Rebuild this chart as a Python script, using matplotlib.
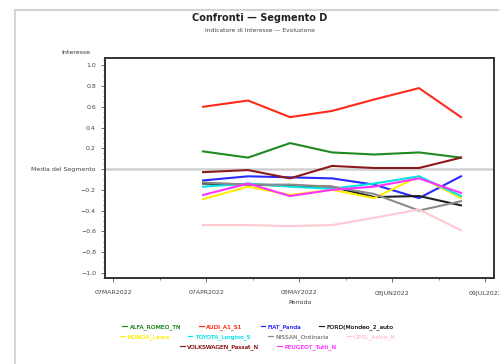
import matplotlib
matplotlib.use('Agg')
import matplotlib.pyplot as plt
from matplotlib.lines import Line2D
from matplotlib.ticker import MultipleLocator

# days since 07MAR2022
days = [30, 45, 59, 73, 87, 102, 116]
tick_days = [0, 31, 62, 93, 124]
tick_labels = ['07MAR2022', '07APR2022', '08MAY2022', '08JUN2022', '09JUL2022']

series = {
    'ALFA_ROMEO_TN':       [0.17, 0.11, 0.25, 0.16, 0.14, 0.16, 0.11],
    'AUDI_A1_S1':          [0.60, 0.66, 0.50, 0.56, 0.67, 0.78, 0.50],
    'FIAT_Panda':          [-0.11, -0.07, -0.08, -0.09, -0.15, -0.28, -0.07],
    'FORD(Mondeo_2_auto':  [-0.14, -0.15, -0.16, -0.17, -0.27, -0.26, -0.35],
    'HONDA_Laura':         [-0.29, -0.17, -0.25, -0.20, -0.28, -0.07, -0.28],
    'TOYOTA_Lorgino_S':    [-0.17, -0.14, -0.17, -0.19, -0.14, -0.07, -0.26],
    'NISSAN_Ordinaria':    [-0.13, -0.15, -0.15, -0.17, -0.24, -0.40, -0.31],
    'OPEL_Astra_N':        [-0.54, -0.54, -0.55, -0.54, -0.47, -0.39, -0.59],
    'VOLKSWAGEN_Passat_N': [-0.03, -0.01, -0.09, 0.03, 0.01, 0.01, 0.11],
    'PEUGEOT_Tutti_N':     [-0.25, -0.14, -0.26, -0.20, -0.17, -0.09, -0.23],
}
colors = {
    'ALFA_ROMEO_TN': '#1f8a1f',
    'AUDI_A1_S1': '#ff2a1a',
    'FIAT_Panda': '#2a2aff',
    'FORD(Mondeo_2_auto': '#222222',
    'HONDA_Laura': '#ffee00',
    'TOYOTA_Lorgino_S': '#00e5e5',
    'NISSAN_Ordinaria': '#8a8a8a',
    'OPEL_Astra_N': '#ffc8d2',
    'VOLKSWAGEN_Passat_N': '#8b1a1a',
    'PEUGEOT_Tutti_N': '#ff33ff',
}
legend_rows = [
    ['ALFA_ROMEO_TN', 'AUDI_A1_S1', 'FIAT_Panda', 'FORD(Mondeo_2_auto'],
    ['HONDA_Laura', 'TOYOTA_Lorgino_S', 'NISSAN_Ordinaria', 'OPEL_Astra_N'],
    ['VOLKSWAGEN_Passat_N', 'PEUGEOT_Tutti_N'],
]

fig = plt.figure(figsize=(4.99, 3.64), dpi=100)
ax = fig.add_axes([105 / 499, 1 - 278 / 364, (494 - 105) / 499, (278 - 58) / 364])

# outer light frame
fig.add_artist(Line2D([15 / 499, 15 / 499], [0, 1 - 10 / 364], color='#d4d4d4', lw=1.5))
fig.add_artist(Line2D([15 / 499, 1], [1 - 10 / 364, 1 - 10 / 364], color='#d4d4d4', lw=1.5))

ax.axhline(0, color='#d0d0d0', lw=1.8, zorder=1)

for name, vals in series.items():
    ax.plot(days, vals, color=colors[name], lw=1.5, zorder=2)

ax.set_xlim(-2.7, 127)
ax.set_ylim(-1.05, 1.07)
ax.set_xticks(tick_days)
ax.set_xticklabels(tick_labels)
ax.xaxis.set_minor_locator(MultipleLocator(15.5))
yt = [-1.0, -0.8, -0.6, -0.4, -0.2, 0.0, 0.2, 0.4, 0.6, 0.8, 1.0]
ax.set_yticks(yt)
ax.set_yticklabels(['\u22121.0', '\u22120.8', '\u22120.6', '\u22120.4', '\u22120.2',
                    'Media del Segmento', '0.2', '0.4', '0.6', '0.8', '1.0'])
ax.yaxis.set_minor_locator(MultipleLocator(0.05))
ax.tick_params(axis='both', which='major', labelsize=4.5, length=3, width=0.6,
               colors='#555555', labelcolor='#444444')
ax.tick_params(axis='both', which='minor', length=1.5, width=0.5, colors='#555555')
ax.tick_params(axis='x', pad=6)
for s in ax.spines.values():
    s.set_linewidth(1.4)
    s.set_color('#333333')

fig.text(90 / 499, 1 - 53 / 364, 'Interesse', fontsize=4.5, ha='right', va='center', color='#333333')
fig.text(300 / 499, 1 - 303 / 364, 'Periodo', fontsize=4.5, ha='center', va='center', color='#333333')

fig.text(260 / 499, 1 - 18 / 364, 'Confronti \u2014 Segmento D', fontsize=7,
         fontweight='bold', ha='center', va='center', color='#222222')
fig.text(260 / 499, 1 - 31 / 364, 'Indicatore di Interesse \u2014 Evoluzione', fontsize=4.3,
         ha='center', va='center', color='#444444')

row_y = [327, 337, 347]
for row, yy in zip(legend_rows, row_y):
    handles = [Line2D([], [], color=colors[n], lw=0.8) for n in row]
    leg = fig.legend(handles, row, loc='center', bbox_to_anchor=(258 / 499, 1 - yy / 364),
                     ncol=len(row), fontsize=4.3, frameon=False, handlelength=0.8,
                     handletextpad=0.4, columnspacing=3.0, labelcolor='linecolor',
                     borderpad=0, borderaxespad=0)
    fig.add_artist(leg)

fig.savefig('out.png', dpi=100)
